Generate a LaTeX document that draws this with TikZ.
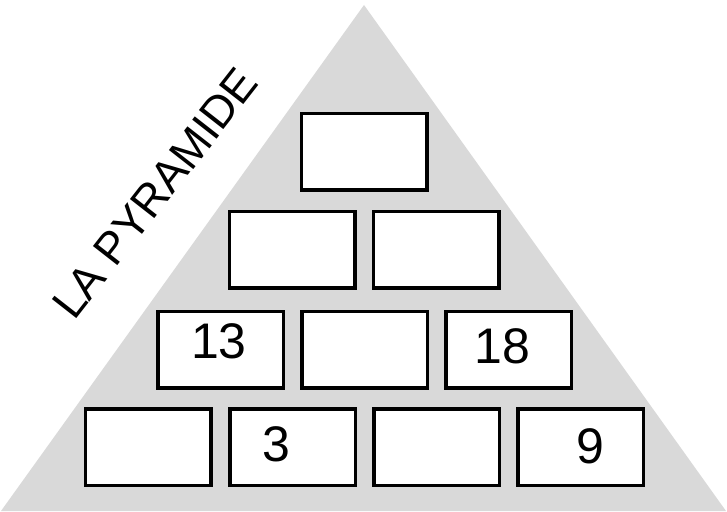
\documentclass[tikz,border=0pt]{standalone}
\usepackage{fontspec}
\setmainfont{Liberation Sans}
\definecolor{pyrgray}{RGB}{217,217,217}
\begin{document}
\begin{tikzpicture}[x=1pt,y=-1pt,
  cell/.style={draw=black,line width=3.5pt,fill=white,minimum width=125.5pt,minimum height=76.5pt,inner sep=0pt},
  num/.style={inner sep=0pt,font=\fontsize{50}{50}\selectfont}]
\useasboundingbox (0,0) rectangle (727,511);
\fill[pyrgray] (364,5) -- (726,511) -- (1,511) -- cycle;
\node[rotate=52,inner sep=0pt,font=\fontsize{45}{45}\selectfont] (title) at (155,193) {LA PYRAMIDE};
% row 1
\node[cell] (r1a) at (364,151.5) {};
% row 2
\node[cell] (r2a) at (292,249.5) {};
\node[cell] (r2b) at (436,249.5) {};
% row 3
\node[cell] (r3a) at (220.5,349.5) {};
\node[cell] (r3b) at (364.5,349.5) {};
\node[cell] (r3c) at (508.5,349.5) {};
% row 4
\node[cell] (r4a) at (148,447) {};
\node[cell] (r4b) at (292.5,447) {};
\node[cell] (r4c) at (436.5,447) {};
\node[cell] (r4d) at (580.5,447) {};
% numbers
\node[num] (n13) at (219,341) {13};
\node[num] (n18) at (502,346) {18};
\node[num] (n3) at (276,444) {3};
\node[num] (n9) at (590,446) {9};
\end{tikzpicture}
\end{document}
